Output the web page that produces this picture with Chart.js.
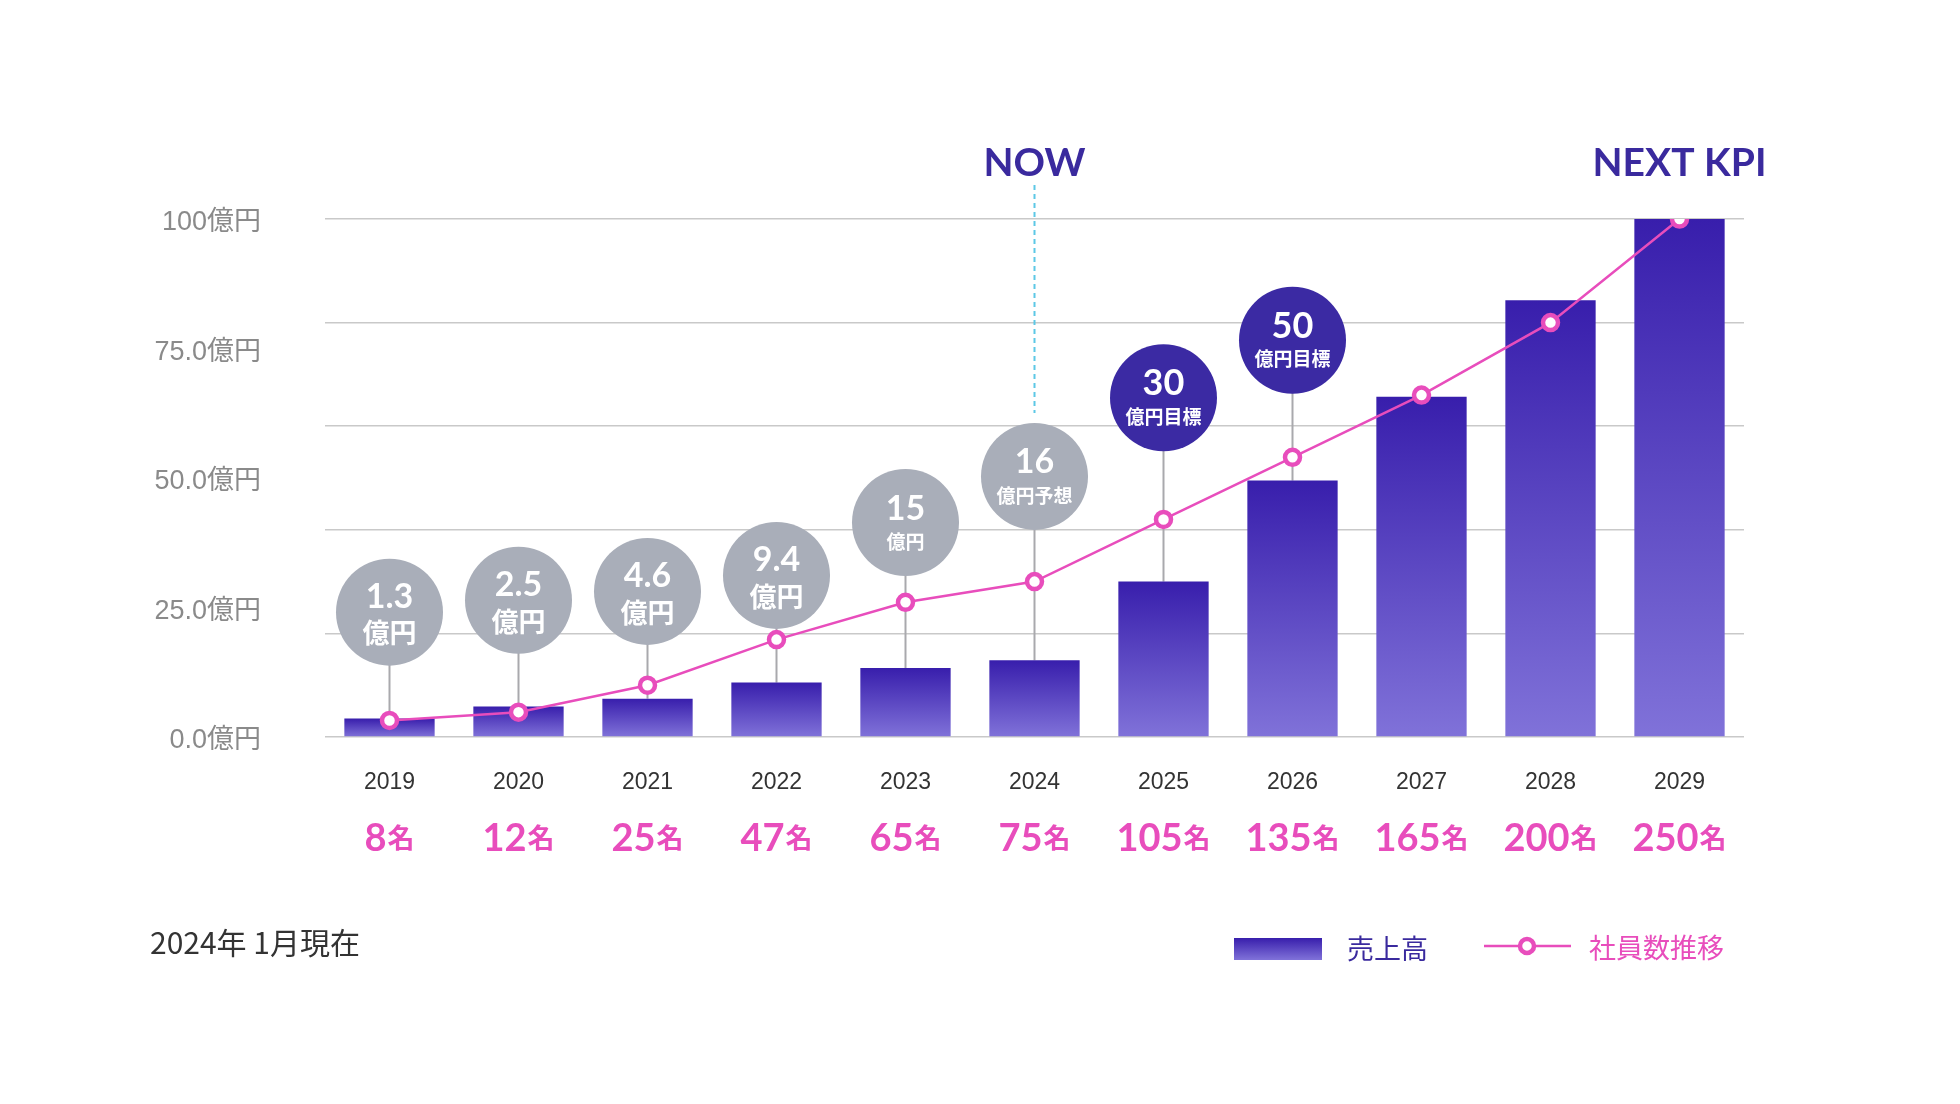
<!DOCTYPE html>
<html lang="ja">
<head>
<meta charset="utf-8">
<title>売上高・社員数推移</title>
<script src="https://cdn.jsdelivr.net/npm/chart.js@4.4.1/dist/chart.umd.min.js"></script>
<style>
  html, body { margin: 0; padding: 0; background: #fff; }
  #wrap { width: 1960px; height: 1104px; position: relative; }
</style>
</head>
<body>
<div id="wrap"><canvas id="myChart"></canvas></div>
<script>
// data
const years = ['2019', '2020', '2021', '2022', '2023', '2024', '2025', '2026', '2027', '2028', '2029'];
const sales = [3.55, 5.9, 7.4, 10.5, 13.3, 14.8, 30.0, 49.5, 65.7, 84.3, 100];   // bar heights (億円 scale)
const employees = [8, 12, 25, 47, 65, 75, 105, 135, 165, 200, 250];              // 社員数
const bubbleNumbers = ['1.3', '2.5', '4.6', '9.4', '15', '16', '30', '50'];
const bubbleUnits = ['億円', '億円', '億円', '億円', '億円', '億円予想', '億円目標', '億円目標'];
const bubbleLevels = [24.1, 26.4, 28.1, 31.2, 41.4, 50.3, 65.5, 76.6];            // bubble centre, y-axis units
const yLabelValues = [0, 25, 50, 75, 100];
const yGridValues = [0, 20, 40, 60, 80, 100];
const nowIndex = 5;
const kpiIndex = 10;

const PINK = '#e84dbc';
const NAVY = '#3a2a9e';
const BAR_TOP = '#381eac';
const BAR_BOTTOM = '#8072d9';
const LATIN = "'Lato', 'Noto Sans CJK JP', sans-serif";
const JP = "'Noto Sans CJK JP', sans-serif";
const SANS = "'Liberation Sans', 'Noto Sans CJK JP', sans-serif";

function barGradient(c) {
    const chart = c.chart;
    if (!chart.chartArea || c.type !== 'data') return BAR_TOP;
    const y = chart.scales.y;
    const top = y.getPixelForValue(c.raw);
    const bottom = y.getPixelForValue(0);
    const g = chart.ctx.createLinearGradient(0, top, 0, bottom);
    g.addColorStop(0, BAR_TOP);
    g.addColorStop(1, BAR_BOTTOM);
    return g;
}

function yLabel(v) {
    if (!yLabelValues.includes(v)) return '';
    return (v === 100 ? '100' : v.toFixed(1)) + '億円';
}

const overlayPlugin = {
    id: 'overlay',
    beforeDatasetsDraw(chart) {
        const ctx = chart.ctx;
        const xs = chart.scales.x;
        const ys = chart.scales.y;
        const bars = chart.getDatasetMeta(0).data;
        const r = 53.5;
        ctx.save();

        // NOW dashed marker
        const nx = xs.getPixelForValue(nowIndex);
        const nowTop = ys.getPixelForValue(bubbleLevels[nowIndex]) - r - 10;
        ctx.strokeStyle = '#5cc8e6';
        ctx.lineWidth = 2;
        ctx.setLineDash([5, 4]);
        ctx.beginPath();
        ctx.moveTo(nx, chart.chartArea.top - 34);
        ctx.lineTo(nx, nowTop);
        ctx.stroke();
        ctx.setLineDash([]);

        bubbleNumbers.forEach((num, i) => {
            const x = xs.getPixelForValue(i);
            const cy = ys.getPixelForValue(bubbleLevels[i]);
            const target = bubbleUnits[i].endsWith('目標');
            const bigUnit = i < 4;

            ctx.strokeStyle = '#a9a9ad';
            ctx.lineWidth = 2;
            ctx.beginPath();
            ctx.moveTo(x, cy);
            ctx.lineTo(x, bars[i].y);
            ctx.stroke();

            ctx.fillStyle = target ? '#3b2aa3' : '#a9aeb9';
            ctx.beginPath();
            ctx.arc(x, cy, r, 0, Math.PI * 2);
            ctx.fill();

            ctx.fillStyle = '#fff';
            ctx.textAlign = 'center';
            ctx.textBaseline = 'middle';
            ctx.font = `700 ${target ? 36 : 34}px ${LATIN}`;
            ctx.fillText(num, x, cy - (bigUnit ? 15 : 14));
            ctx.font = `700 ${bigUnit ? 27 : 19}px ${JP}`;
            ctx.fillText(bubbleUnits[i], x, cy + (bigUnit ? 21 : 19));
        });
        ctx.restore();
    },
    afterDraw(chart) {
        const ctx = chart.ctx;
        const xs = chart.scales.x;
        ctx.save();

        // headings
        ctx.fillStyle = NAVY;
        ctx.textAlign = 'center';
        ctx.textBaseline = 'middle';
        ctx.font = `700 39px ${LATIN}`;
        ctx.fillText('NOW', xs.getPixelForValue(nowIndex), 163);
        ctx.fillText('NEXT KPI', xs.getPixelForValue(kpiIndex), 163);

        // employee counts under the years
        ctx.textBaseline = 'alphabetic';
        ctx.textAlign = 'left';
        employees.forEach((n, i) => {
            const x = xs.getPixelForValue(i);
            ctx.font = `700 38px ${LATIN}`;
            const w1 = ctx.measureText(String(n)).width;
            ctx.font = `700 27px ${JP}`;
            const w2 = ctx.measureText('名').width;
            const left = x - (w1 + w2 + 1) / 2;
            ctx.fillStyle = PINK;
            ctx.font = `700 38px ${LATIN}`;
            ctx.fillText(String(n), left, 851);
            ctx.font = `700 27px ${JP}`;
            ctx.fillText('名', left + w1 + 1, 848);
        });

        // footnote
        ctx.fillStyle = '#333';
        ctx.font = `400 30px ${JP}`;
        ctx.textBaseline = 'middle';
        ctx.fillText('2024年 1月現在', 150, 943);

        // legend
        const g = ctx.createLinearGradient(0, 938, 0, 960);
        g.addColorStop(0, BAR_TOP);
        g.addColorStop(1, BAR_BOTTOM);
        ctx.fillStyle = g;
        ctx.fillRect(1234, 938, 88, 22);
        ctx.fillStyle = NAVY;
        ctx.font = `400 27px ${JP}`;
        ctx.fillText('売上高', 1347, 949);

        ctx.strokeStyle = PINK;
        ctx.lineWidth = 2.5;
        ctx.beginPath();
        ctx.moveTo(1484, 946);
        ctx.lineTo(1571, 946);
        ctx.stroke();
        ctx.fillStyle = '#fff';
        ctx.lineWidth = 4.5;
        ctx.beginPath();
        ctx.arc(1527, 946, 7, 0, Math.PI * 2);
        ctx.fill();
        ctx.stroke();
        ctx.fillStyle = PINK;
        ctx.fillText('社員数推移', 1589, 948);

        ctx.restore();
    }
};

const ctx = document.getElementById('myChart');
const myChart = new Chart(ctx, {
    data: {
        labels: years,
        datasets: [{
            type: 'bar',
            label: '売上高',
            data: sales,
            backgroundColor: barGradient,
            barPercentage: 0.7,
            categoryPercentage: 1.0,
            order: 1
        }, {
            type: 'line',
            label: '社員数推移',
            data: employees,
            yAxisID: 'y2',
            borderColor: PINK,
            borderWidth: 2.5,
            pointRadius: 7.5,
            pointBorderWidth: 4.5,
            pointBackgroundColor: '#fff',
            pointBorderColor: PINK,
            tension: 0,
            order: 0
        }]
    },
    options: {
        responsive: true,
        maintainAspectRatio: false,
        animation: false,
        layout: { padding: { top: 219, right: 216, bottom: 0, left: 0 } },
        plugins: {
            legend: { display: false },
            tooltip: { enabled: false }
        },
        scales: {
            x: {
                grid: { display: false },
                border: { display: false },
                ticks: {
                    color: '#333',
                    font: { family: SANS, size: 23 },
                    padding: 24
                },
                afterFit: s => { s.height = 367; }
            },
            y: {
                min: 0,
                max: 100,
                afterBuildTicks: axis => {
                    const vals = [...new Set([...yGridValues, ...yLabelValues])].sort((a, b) => a - b);
                    axis.ticks = vals.map(v => ({ value: v }));
                },
                grid: {
                    color: c => (c.tick && yGridValues.includes(c.tick.value)) ? '#c9c9c9' : 'rgba(0,0,0,0)',
                    lineWidth: 1.5,
                    drawTicks: false
                },
                border: { display: false },
                ticks: {
                    autoSkip: false,
                    callback: v => yLabel(v),
                    color: '#8a8a8a',
                    font: { family: SANS, size: 27 },
                    padding: 64,
                    labelOffset: 4
                },
                afterFit: s => { s.width = 325; }
            },
            y2: {
                display: false,
                min: 0,
                max: 250
            }
        }
    },
    plugins: [overlayPlugin]
});
</script>
</body>
</html>
